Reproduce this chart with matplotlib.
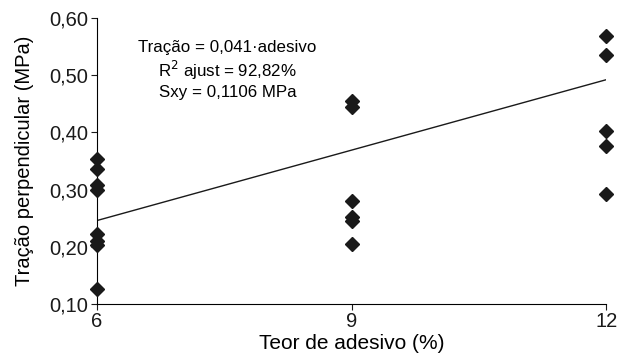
import matplotlib.pyplot as plt
import numpy as np

plt.rcParams['font.family'] = ['Liberation Sans', 'DejaVu Sans']

teor_6 = [0.353, 0.336, 0.308, 0.300, 0.222, 0.210, 0.203, 0.127]
teor_9 = [0.455, 0.445, 0.281, 0.253, 0.245, 0.205]
teor_12 = [0.568, 0.535, 0.402, 0.376, 0.293]
slope = 0.041
x_ticks = [6, 9, 12]
y_ticks = [0.10, 0.20, 0.30, 0.40, 0.50, 0.60]

fig = plt.figure(figsize=(6.25, 3.57), dpi=100)
ax = fig.add_axes([0.155, 0.148, 0.815, 0.802])

for x, vals in zip(x_ticks, [teor_6, teor_9, teor_12]):
    ax.plot([x] * len(vals), vals, 'D', color='#1a1a1a', markersize=7.5,
            clip_on=False, zorder=3)

xl = np.array([6, 12])
ax.plot(xl, slope * xl, color='#1a1a1a', linewidth=1)

ax.set_xlim(6, 12)
ax.set_ylim(0.10, 0.60)
ax.set_xticks(x_ticks)
ax.set_yticks(y_ticks)
ax.set_yticklabels([f"{v:.2f}".replace('.', ',') for v in y_ticks])
ax.spines['top'].set_visible(False)
ax.spines['right'].set_visible(False)
ax.tick_params(direction='out', length=4, labelsize=14.5, colors='#1a1a1a', pad=2)
ax.set_xlabel('Teor de adesivo (%)', fontsize=15, labelpad=2)
ax.set_ylabel('Tração perpendicular (MPa)', fontsize=14.5, labelpad=11)

ax.text(7.54, 0.509, 'Tração = 0,041·adesivo\nR$^2$ ajust = 92,82%\nSxy = 0,1106 MPa',
        ha='center', va='center', fontsize=12.2, linespacing=1.25)

fig.savefig('out.png', dpi=100)
